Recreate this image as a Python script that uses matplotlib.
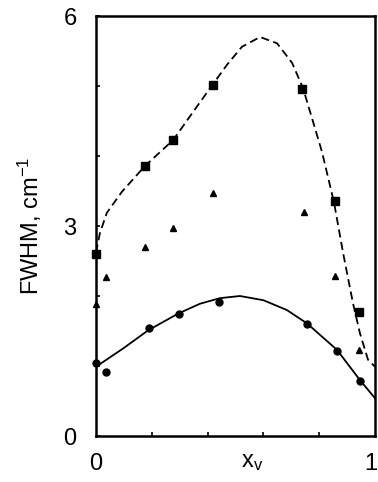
import numpy as np
import matplotlib.pyplot as plt
import matplotlib.transforms as mtransforms

plt.rcParams['font.family'] = ['Liberation Sans', 'DejaVu Sans']
plt.rcParams['mathtext.fontset'] = 'custom'
plt.rcParams['mathtext.rm'] = 'Liberation Sans'
plt.rcParams['mathtext.it'] = 'Liberation Sans'

# squares (upper series) and its dashed guide curve
sq_x = [0.0, 0.176, 0.277, 0.42, 0.74, 0.855, 0.943]
sq_y = [2.6, 3.86, 4.23, 5.01, 4.96, 3.36, 1.77]
dash_x = [0.0, 0.014, 0.039, 0.093, 0.176, 0.277, 0.348, 0.42, 0.469, 0.523,
          0.588, 0.649, 0.703, 0.742, 0.778, 0.81, 0.853, 0.886, 0.921,
          0.946, 0.975, 1.0]
dash_y = [2.62, 2.9, 3.19, 3.49, 3.86, 4.23, 4.63, 5.03, 5.3, 5.56,
          5.7, 5.61, 5.33, 4.97, 4.49, 4.06, 3.34, 2.61, 1.9,
          1.47, 1.09, 0.99]

# triangles (middle series)
tri_x = [0.0, 0.036, 0.175, 0.277, 0.42, 0.745, 0.855, 0.943]
tri_y = [1.88, 2.27, 2.7, 2.97, 3.47, 3.2, 2.28, 1.23]

# circles (lower series) and its solid guide curve
circ_x = [0.0, 0.036, 0.19, 0.298, 0.44, 0.756, 0.864, 0.946]
circ_y = [1.05, 0.91, 1.54, 1.75, 1.92, 1.6, 1.21, 0.79]
solid_x = [0.0, 0.097, 0.187, 0.295, 0.373, 0.445, 0.516, 0.6, 0.684,
           0.756, 0.864, 0.946, 1.0]
solid_y = [0.99, 1.25, 1.51, 1.75, 1.89, 1.97, 2.0, 1.94, 1.8,
           1.61, 1.23, 0.8, 0.54]

fig = plt.figure(figsize=(3.78, 4.82), dpi=100)
ax = fig.add_axes([0.254, 0.0954, 0.738, 0.8714])

ax.plot(dash_x, dash_y, color='black', lw=1.3, dashes=(4.5, 2.5))
ax.plot(solid_x, solid_y, color='black', lw=1.3)
ax.plot(sq_x, sq_y, 's', color='black', ms=5.5, clip_on=False)
ax.plot(tri_x, tri_y, '^', color='black', ms=4.5, clip_on=False)
ax.plot(circ_x, circ_y, 'o', color='black', ms=5, clip_on=False)

ax.set_xlim(0, 1)
ax.set_ylim(0, 6)
ax.set_xticks([0, 1])
ax.set_xticklabels(['0', '1'])
ax.set_yticks([0, 3, 6])
ax.set_xticks([0.2, 0.4, 0.6, 0.8], minor=True)
ax.set_yticks([1, 2, 4, 5], minor=True)
ax.tick_params(which='major', direction='in', length=0, labelsize=17, pad=12)
ax.tick_params(which='minor', direction='in', length=3, width=1.2)
ax.tick_params(axis='y', which='major', length=3, width=1.2, pad=14)

# the "1" sits at the very right edge; pull it in a few pixels
lab1 = ax.get_xticklabels()[1]
lab1.set_transform(lab1.get_transform() +
                   mtransforms.ScaledTranslation(-4 / 100, 0, fig.dpi_scale_trans))

for sp in ax.spines.values():
    sp.set_linewidth(1.8)

ax.set_ylabel('FWHM, cm$^{-1}$', fontsize=17, labelpad=14)
ax.text(0.56, -0.062, r'$\mathregular{x_v}$', transform=ax.transAxes,
        fontsize=17, ha='center', va='center')

fig.savefig('out.png', dpi=100)
